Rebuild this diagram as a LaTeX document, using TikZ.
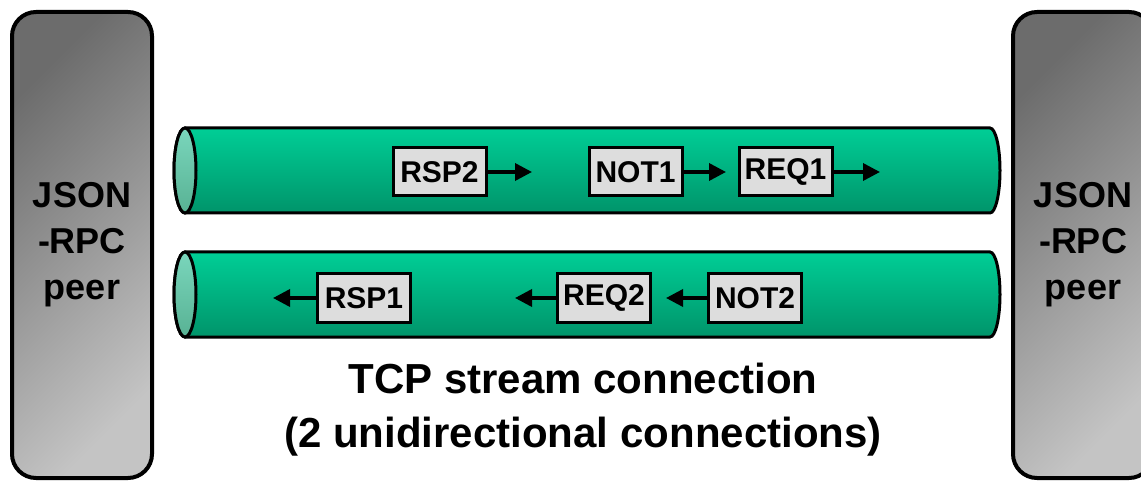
\documentclass[tikz,border=0pt]{standalone}
\usepackage{fontspec}
\setmainfont{Liberation Sans}
\usetikzlibrary{positioning,arrows.meta}

\definecolor{tubetop}{RGB}{0,206,150}
\definecolor{tubebot}{RGB}{0,148,106}
\definecolor{facetop}{RGB}{122,214,188}
\definecolor{facebot}{RGB}{88,178,148}
\definecolor{peerdark}{RGB}{108,108,108}
\definecolor{peerlight}{RGB}{196,196,196}
\definecolor{msgfill}{RGB}{221,221,221}

\tikzset{
  peer/.style={draw, line width=4pt, rounded corners=24pt, minimum width=140pt, minimum height=466pt,
    top color=peerdark, bottom color=peerlight, shading angle=45, align=center,
    font=\fontsize{36}{46}\selectfont\bfseries},
  msg/.style={draw, line width=3pt, fill=msgfill, minimum width=93pt, minimum height=48pt,
    inner sep=0pt, outer sep=0pt, font=\fontsize{30}{36}\selectfont\bfseries},
  flow/.style={line width=3.5pt, -{Triangle[length=17pt,width=17pt]}},
  tube/.style={draw, line width=3pt, top color=tubetop, bottom color=tubebot},
  tubeface/.style={draw, line width=3pt, top color=facetop, bottom color=facebot},
  caption/.style={align=center, font=\fontsize{42}{54}\selectfont\bfseries},
}

\begin{document}
\begin{tikzpicture}[x=1pt,y=1pt]
    \path[use as bounding box, clip] (0,0) rectangle (1141,480);

    % the two peers
    \node[peer] (lpeer) at (82,235) {JSON\\-RPC\\peer};
    \node[peer] (rpeer) at (1083,235) {JSON\\-RPC\\peer};

    % upper tube
    \shade[tube] (185,352) -- (990,352) arc[start angle=90,end angle=-90,x radius=10pt,y radius=42.5pt]
        -- (185,267) arc[start angle=270,end angle=90,x radius=11pt,y radius=42.5pt] -- cycle;
    \shade[tubeface] (185,309.5) ellipse[x radius=11pt,y radius=42.5pt];

    % lower tube
    \shade[tube] (185,228) -- (990,228) arc[start angle=90,end angle=-90,x radius=10pt,y radius=42.5pt]
        -- (185,143) arc[start angle=270,end angle=90,x radius=11pt,y radius=42.5pt] -- cycle;
    \shade[tubeface] (185,185.5) ellipse[x radius=11pt,y radius=42.5pt];

    % messages left to right
    \node[msg] (rsp2) at (439.5,308) {RSP2};
    \node[msg] (not1) [right=103pt of rsp2] {NOT1};
    \node[msg] (req1) [right=57pt of not1] {REQ1};
    \coordinate (rsp2end) at (532,308);
    \coordinate (not1end) at (726,308);
    \coordinate (req1end) at (880,308);
    \draw[flow] (rsp2) -- (rsp2end);
    \draw[flow] (not1) -- (not1end);
    \draw[flow] (req1) -- (req1end);

    % messages right to left
    \node[msg] (rsp1) at (364,182) {RSP1};
    \node[msg] (req2) [right=147pt of rsp1] {REQ2};
    \node[msg] (not2) [right=58pt of req2] {NOT2};
    \coordinate (rsp1end) at (273,182);
    \coordinate (req2end) at (515,182);
    \coordinate (not2end) at (666,182);
    \draw[flow] (rsp1) -- (rsp1end);
    \draw[flow] (req2) -- (req2end);
    \draw[flow] (not2) -- (not2end);

    \node[caption] (conn) at (583,70) {TCP stream connection\\(2 unidirectional connections)};
\end{tikzpicture}
\end{document}
